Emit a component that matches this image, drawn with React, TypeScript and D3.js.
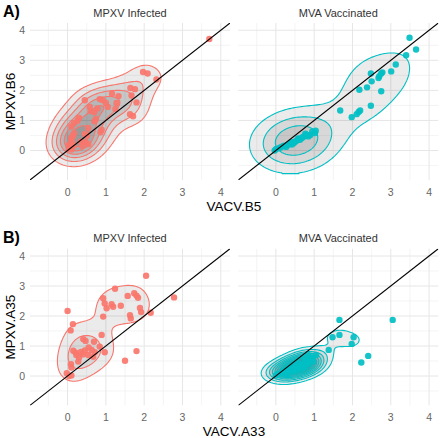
import React from 'react';
import * as d3 from 'd3';

type Pt = [number, number];

const groupNames = ['MPXV Infected', 'MVA Vaccinated'];
const groupColors = ['#F8766D', '#00BFC4'];
const majorTicks = [0, 1, 2, 3, 4];
const minorTicks = [-0.5, 0.5, 1.5, 2.5, 3.5];
const plotLabels = ['A)', 'B)'];
const xTitles = ['VACV.B5', 'VACV.A33'];
const yTitles = ['MPXV.B6', 'MPXV.A35'];

// Panel A: VACV.B5 (x) vs MPXV.B6 (y)
const infectedB5B6: Pt[] = [
  [3.70, 3.71], [1.97, 2.61], [2.09, 2.56], [2.32, 2.36], [1.64, 2.08], [1.76, 2.04], [1.67, 1.83],
  [1.80, 1.60], [1.16, 1.89], [1.33, 1.81], [0.84, 1.71], [0.91, 1.68], [0.45, 1.67], [1.00, 1.58],
  [1.28, 1.58], [1.25, 1.38], [0.60, 1.31], [0.70, 1.27], [1.63, 1.21], [1.71, 1.14], [0.30, 1.08],
  [0.26, 0.99], [0.74, 1.05], [0.70, 0.97], [0.17, 0.91], [0.10, 0.80], [0.54, 0.75], [0.89, 0.69],
  [0.86, 0.61], [0.45, 0.55], [0.51, 0.49], [0.17, 0.58], [0.15, 0.49], [0.09, 0.41], [0.12, 0.30],
  [0.06, 0.21], [0.02, 0.17], [0.35, 0.30], [0.47, 0.28], [0.54, 0.21], [0.15, 0.16], [0.38, 0.16],
  [0.03, 0.05], [0.10, 0.03], [0.10, 0.09], [0.58, 1.45], [0.78, 1.40], [1.05, 1.45],
];
const vaccinatedB5B6: Pt[] = [
  [3.49, 3.75], [3.66, 3.36], [3.40, 3.17], [3.13, 2.86], [3.01, 2.63], [2.78, 2.60], [2.75, 2.56],
  [2.70, 2.47], [2.68, 2.41], [2.48, 2.56], [2.50, 2.30], [2.38, 2.10], [2.75, 1.97], [2.18, 2.02],
  [2.48, 1.49], [1.68, 1.33], [2.20, 1.33], [2.16, 1.28], [2.11, 1.21], [1.98, 1.11],
  [0.95, 0.63], [1.02, 0.58], [0.90, 0.52], [0.77, 0.56], [0.73, 0.47], [0.67, 0.41], [0.60, 0.38],
  [0.51, 0.30], [0.47, 0.25], [0.38, 0.25], [0.32, 0.19], [0.21, 0.16], [0.16, 0.13], [0.08, 0.08],
  [0.01, 0.05], [-0.03, 0.00], [0.85, 0.47], [1.04, 0.66], [0.42, 0.20], [0.27, 0.12],
  [0.55, 0.33], [0.63, 0.36], [0.70, 0.44], [0.35, 0.22], [0.12, 0.10], [0.81, 0.52], [0.44, 0.28],
  [0.58, 0.40],
];

// Panel B: VACV.A33 (x) vs MPXV.A35 (y)
const infectedA33A35: Pt[] = [
  [2.05, 3.34], [2.78, 2.62], [0.00, 2.17], [0.14, 1.73], [0.08, 1.52], [1.24, 2.91], [1.74, 2.76],
  [1.80, 2.68], [1.84, 2.61], [1.57, 2.67], [0.93, 2.59], [0.97, 2.42], [1.15, 2.39],
  [1.19, 2.31], [1.39, 2.34], [1.02, 2.26],
  [0.93, 1.98], [1.63, 2.03], [1.65, 1.92], [1.89, 2.27], [1.92, 2.13], [2.17, 2.11],
  [0.89, 1.37], [0.41, 1.23], [0.47, 1.17], [0.69, 1.14], [0.84, 0.98], [0.97, 0.79], [0.15, 0.84],
  [0.21, 0.78], [0.23, 0.70], [0.63, 0.87], [0.71, 0.79], [0.67, 0.64], [0.54, 0.70], [0.28, 0.48],
  [0.09, 0.39], [0.10, 0.28], [-0.02, 0.09], [0.04, 0.00], [0.10, 0.02], [1.80, 0.83], [1.50, 0.51],
  [0.35, 0.80], [0.45, 0.85], [0.40, 0.72], [0.55, 0.95], [0.30, 0.62],
];
const vaccinatedA33A35: Pt[] = [
  [3.05, 1.87], [1.66, 1.87], [1.48, 1.29], [1.66, 1.37], [2.03, 1.29], [1.98, 1.07], [1.38, 0.87],
  [2.41, 0.67], [2.23, 0.45],
  [0.00, 0.02], [0.05, 0.08], [0.12, 0.05], [0.15, 0.14], [0.20, 0.10], [0.23, 0.20], [0.28, 0.15],
  [0.32, 0.26], [0.35, 0.18], [0.40, 0.31], [0.42, 0.22], [0.45, 0.15], [0.49, 0.37], [0.50, 0.28],
  [0.55, 0.20], [0.58, 0.42], [0.60, 0.30], [0.62, 0.25], [0.65, 0.35], [0.67, 0.31], [0.70, 0.40],
  [0.72, 0.28], [0.75, 0.45], [0.76, 0.59], [0.78, 0.35], [0.80, 0.50], [0.84, 0.70], [0.85, 0.40],
  [0.90, 0.55], [0.95, 0.62], [0.98, 0.48], [1.05, 0.70], [0.30, 0.08], [0.52, 0.33], [0.68, 0.38],
  [0.88, 0.47],
];

const plotData: Pt[][][] = [
  [infectedB5B6, vaccinatedB5B6],
  [infectedA33A35, vaccinatedA33A35],
];
// kernel bandwidth adjustment per plot / group (stat parameter)
const bandwidthAdjust: number[][] = [
  [1.0, 1.2],
  [1.1, 1.5],
];

const DOMAIN: [number, number] = [-0.98, 4.24];
const GRID_LIM: [number, number] = [-0.743, 4.0];
const NGRID = 100;

function bandwidthNrd(v: number[]): number {
  const s = [...v].sort((a, b) => a - b);
  const q1 = d3.quantileSorted(s, 0.25) as number;
  const q3 = d3.quantileSorted(s, 0.75) as number;
  const sd = d3.deviation(v) as number;
  return 4 * 1.06 * Math.min(sd, (q3 - q1) / 1.34) * Math.pow(v.length, -0.2);
}

function kde2d(pts: Pt[], adj: number): number[] {
  const hx = (bandwidthNrd(pts.map((p) => p[0])) / 4) * adj;
  const hy = (bandwidthNrd(pts.map((p) => p[1])) / 4) * adj;
  const [lo, hi] = GRID_LIM;
  const step = (hi - lo) / (NGRID - 1);
  const vals: number[] = new Array(NGRID * NGRID).fill(0);
  const norm = 1 / (2 * Math.PI * hx * hy * pts.length);
  for (let j = 0; j < NGRID; j++) {
    const gy = lo + j * step;
    for (let i = 0; i < NGRID; i++) {
      const gx = lo + i * step;
      let s = 0;
      for (const p of pts) {
        const dx = (gx - p[0]) / hx;
        const dy = (gy - p[1]) / hy;
        s += Math.exp(-0.5 * (dx * dx + dy * dy));
      }
      vals[j * NGRID + i] = s * norm;
    }
  }
  return vals;
}

const FONT = '"Liberation Sans", Arial, Helvetica, sans-serif';
const panelX: [number, number][] = [[30, 230], [238.3, 438.3]];
const panelY: [number, number][] = [[23, 180], [248.8, 405.4]];

function Plot({ pi }: { pi: number }) {
  const [top, bottom] = panelY[pi];
  const y = d3.scaleLinear().domain(DOMAIN).range([bottom, top]);
  const groups = plotData[pi];
  const dens = groups.map((g, gi) => kde2d(g, bandwidthAdjust[pi][gi]));
  const zmax = d3.max(dens.map((d) => d3.max(d) as number)) as number;
  const zmin = d3.min(dens.map((d) => d3.min(d) as number)) as number;
  const breaks = d3.ticks(0, zmax, 10).filter((b) => b > zmin);
  const [lo, hi] = GRID_LIM;
  const step = (hi - lo) / (NGRID - 1);
  const contourGen = d3.contours().size([NGRID, NGRID]).thresholds(breaks);

  return (
    <g>
      <text x={3} y={top - 6} fontSize={16} fontWeight="bold" fill="#000" fontFamily={FONT}>
        {plotLabels[pi]}
      </text>
      <text
        transform={`translate(15,${(top + bottom) / 2}) rotate(-90)`}
        textAnchor="middle"
        fontSize={13.5}
        fill="#000"
        fontFamily={FONT}
      >
        {yTitles[pi]}
      </text>
      <text x={234} y={bottom + 30.5} textAnchor="middle" fontSize={13.5} fill="#000" fontFamily={FONT}>
        {xTitles[pi]}
      </text>
      {groups.map((pts, gi) => {
        const [left, right] = panelX[gi];
        const x = d3.scaleLinear().domain(DOMAIN).range([left, right]);
        const proj = d3.geoTransform({
          point(px: number, py: number) {
            (this as any).stream.point(x(lo + (px - 0.5) * step), y(lo + (py - 0.5) * step));
          },
        });
        const path = d3.geoPath(proj);
        const contours = contourGen(dens[gi]);
        const clipId = `clip-${pi}-${gi}`;
        return (
          <g key={gi}>
            <defs>
              <clipPath id={clipId}>
                <rect x={left} y={top} width={right - left} height={bottom - top} />
              </clipPath>
            </defs>
            <text
              x={(left + right) / 2}
              y={top - 6.5}
              textAnchor="middle"
              fontSize={11}
              fill="#333"
              fontFamily={FONT}
            >
              {groupNames[gi]}
            </text>
            {minorTicks.map((t) => (
              <g key={'m' + t}>
                <line x1={x(t)} x2={x(t)} y1={top} y2={bottom} stroke="#efefef" strokeWidth={0.7} />
                <line x1={left} x2={right} y1={y(t)} y2={y(t)} stroke="#efefef" strokeWidth={0.7} />
              </g>
            ))}
            {majorTicks.map((t) => (
              <g key={'M' + t}>
                <line x1={x(t)} x2={x(t)} y1={top} y2={bottom} stroke="#e6e6e6" strokeWidth={1} />
                <line x1={left} x2={right} y1={y(t)} y2={y(t)} stroke="#e6e6e6" strokeWidth={1} />
                <text
                  x={x(t)}
                  y={bottom + 16}
                  textAnchor="middle"
                  fontSize={10.5}
                  fill="#666"
                  fontFamily={FONT}
                >
                  {t}
                </text>
                {gi === 0 && (
                  <text
                    x={25}
                    y={y(t)}
                    dy="0.35em"
                    textAnchor="end"
                    fontSize={10.5}
                    fill="#666"
                    fontFamily={FONT}
                  >
                    {t}
                  </text>
                )}
              </g>
            ))}
            <g clipPath={`url(#${clipId})`}>
              {contours.map((c, ci) => (
                <path
                  key={ci}
                  d={path(c as any) || ''}
                  fill="#000"
                  fillOpacity={0.08}
                  stroke={groupColors[gi]}
                  strokeWidth={1.1}
                />
              ))}
              {pts.map((p, k) => (
                <circle key={k} cx={x(p[0])} cy={y(p[1])} r={3.2} fill={groupColors[gi]} fillOpacity={0.92} />
              ))}
              <line
                x1={x(DOMAIN[0])}
                y1={y(DOMAIN[0])}
                x2={x(DOMAIN[1])}
                y2={y(DOMAIN[1])}
                stroke="#000"
                strokeWidth={1.1}
              />
            </g>
          </g>
        );
      })}
    </g>
  );
}

export default function App() {
  return (
    <svg
      width={440}
      height={438}
      style={{ position: 'absolute', left: 0, top: 0, background: '#fff' }}
    >
      <rect width={440} height={438} fill="#fff" />
      <Plot pi={0} />
      <Plot pi={1} />
    </svg>
  );
}
